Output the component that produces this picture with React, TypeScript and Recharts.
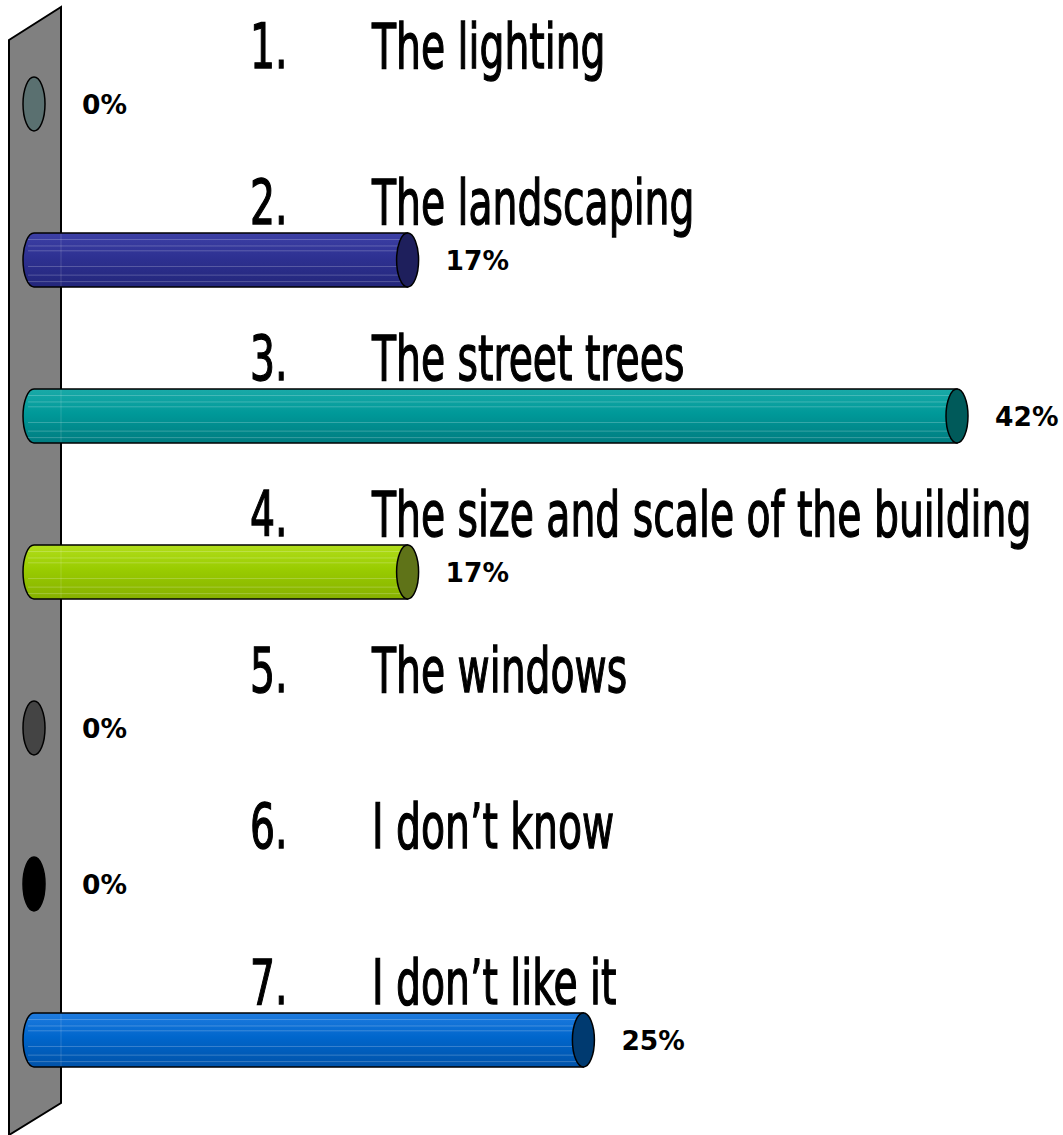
import { BarChart, Bar, XAxis, YAxis, LabelList } from 'recharts';

const numbers = ['1.', '2.', '3.', '4.', '5.', '6.', '7.'];
const categories = [
  'The lighting',
  'The landscaping',
  'The street trees',
  'The size and scale of the building',
  'The windows',
  'I don\u2019t know',
  'I don\u2019t like it',
];
const percents = [0, 17, 42, 17, 0, 0, 25];

// light / base / dark for the body, then the end cap
const bodyLight = ['#6f8a8a', '#3d40a6', '#1aaaa8', '#b2de1c', '#5a5a5a', '#222222', '#1f7ce0'];
const bodyBase = ['#5f7a7a', '#2e3192', '#009999', '#99cc00', '#4a4a4a', '#111111', '#0066cc'];
const bodyDark = ['#4f6a6a', '#23267a', '#007c80', '#86b000', '#3a3a3a', '#000000', '#0052a8'];
const capColors = ['#5a7070', '#1e1f5c', '#005a5a', '#5f7318', '#444444', '#000000', '#003a70'];

const data = categories.map((name, i) => ({ name, num: numbers[i], value: percents[i] }));

const labelFont = "'DejaVu Sans Condensed', 'Liberation Sans Narrow', 'Liberation Sans', sans-serif";
const squeeze = 0.705;

function Cylinder(props: any) {
  const { x, y, width, height, index } = props;
  const rx = 11;
  const ry = height / 2;
  const cy = y + ry;
  const x0 = x;
  const x1 = x + width;
  const cap = capColors[index];
  if (!width || width < 1) {
    return <ellipse cx={x0} cy={cy} rx={rx} ry={ry} fill={cap} stroke="#000" strokeWidth={1.5} />;
  }
  const top = y;
  const bot = y + height;
  const body = `M${x0},${top} L${x1},${top} L${x1},${bot} L${x0},${bot} A${rx},${ry} 0 0 1 ${x0},${top} Z`;
  const stripes = [0.12, 0.24, 0.33, 0.62, 0.78, 0.9];
  return (
    <g>
      <path d={body} fill={`url(#cyl${index})`} stroke="#000" strokeWidth={1.5} />
      {stripes.map((s, k) => (
        <line
          key={k}
          x1={x0 - 6}
          x2={x1}
          y1={top + height * s}
          y2={top + height * s}
          stroke="#ffffff"
          strokeOpacity={0.22}
          strokeWidth={1}
        />
      ))}
      <line x1={61} x2={61} y1={top + 1} y2={bot - 1} stroke="#ffffff" strokeOpacity={0.15} />
      <ellipse cx={x1} cy={cy} rx={rx} ry={ry} fill={cap} stroke="#000" strokeWidth={1.5} />
    </g>
  );
}

function CategoryLabel(props: any) {
  const { y, height, index, value } = props;
  const base = y + height / 2 - 36;
  return (
    <g>
      <text x={250} y={base} fontFamily={labelFont} fontSize={62} fill="#000" stroke="#000" strokeWidth={1.3} transform={`translate(250 0) scale(${squeeze} 1) translate(-250 0)`}>
        {numbers[index]}
      </text>
      <text x={372} y={base} fontFamily={labelFont} fontSize={62} fill="#000" stroke="#000" strokeWidth={1.3} transform={`translate(372 0) scale(${squeeze} 1) translate(-372 0)`}>
        {value}
      </text>
    </g>
  );
}

function PercentLabel(props: any) {
  const { x, y, width, height, value } = props;
  const off = width > 1 ? 38 : 48;
  return (
    <text x={x + width + off} y={y + height / 2 + 10} fontFamily="'DejaVu Sans', Verdana, sans-serif" fontWeight="bold" fontSize={26.5} fill="#000">
      {`${value}%`}
    </text>
  );
}

export default function App() {
  return (
    <div style={{ position: 'absolute', left: 0, top: 0, width: 1063, height: 1135, background: '#fff' }}>
      <svg width={1063} height={1135} style={{ position: 'absolute', left: 0, top: 0 }}>
        <polygon points="9,40 61,7 61,1103 9,1135" fill="#808080" stroke="#000" strokeWidth={2} />
      </svg>
      <div style={{ position: 'absolute', left: 0, top: 0 }}>
        <BarChart
          width={1063}
          height={1135}
          data={data}
          layout="vertical"
          margin={{ top: 26, right: 106, bottom: 17, left: 34 }}
          barCategoryGap={0}
        >
          <defs>
            {bodyBase.map((c, i) => (
              <linearGradient key={i} id={`cyl${i}`} x1="0" y1="0" x2="0" y2="1">
                <stop offset="0%" stopColor={bodyLight[i]} />
                <stop offset="45%" stopColor={c} />
                <stop offset="100%" stopColor={bodyDark[i]} />
              </linearGradient>
            ))}
          </defs>
          <XAxis type="number" domain={[0, 42]} hide />
          <YAxis type="category" dataKey="name" width={0} hide />
          <Bar dataKey="value" barSize={54} isAnimationActive={false} shape={(p: any) => <Cylinder {...p} />}>
            <LabelList dataKey="name" content={(p: any) => <CategoryLabel {...p} />} />
            <LabelList dataKey="value" content={(p: any) => <PercentLabel {...p} />} />
          </Bar>
        </BarChart>
      </div>
    </div>
  );
}
